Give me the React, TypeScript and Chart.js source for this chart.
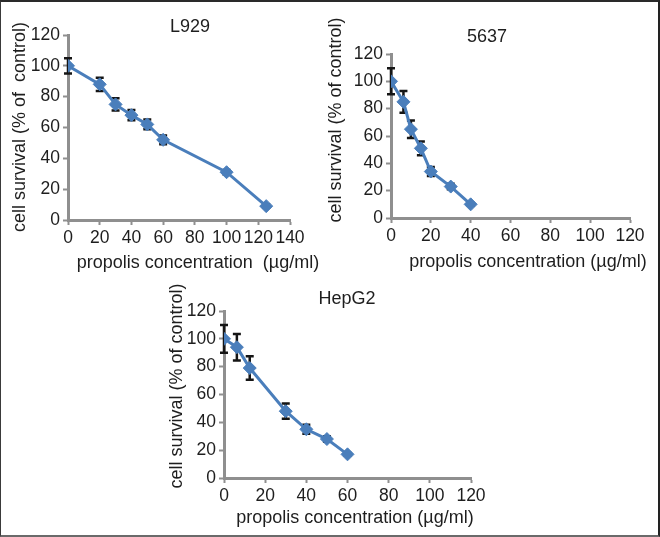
import React, { useEffect, useRef } from "react";
import { Chart, registerables } from "chart.js";

Chart.register(...registerables);

const FONT = "'Liberation Sans', Arial, sans-serif";
const TEXT_COLOR = "#1e1e1e";
const AXIS_COLOR = "#8f8f8f";
const LINE_COLOR = "#4a7ebb";
const ERR_COLOR = "#151515";

// ---- L929 ----
const l929Conc = [0, 20, 30, 40, 50, 60, 100, 125];
const l929Survival = [100, 88, 75, 68, 62, 52, 31, 9];
const l929Err = [5, 4.3, 4, 3.3, 3.2, 2.8, 1.5, 1];

// ---- 5637 ----
const c5637Conc = [0, 6.25, 10, 15, 20, 30, 40];
const c5637Survival = [100, 85, 65, 51, 34, 23, 10];
const c5637Err = [9.5, 8, 6.4, 5, 3.3, 2, 1];

// ---- HepG2 ----
const hepConc = [0, 6.25, 12.5, 30, 40, 50, 60];
const hepSurvival = [100, 94, 79, 48, 35, 28, 17];
const hepErr = [10, 9.5, 8.4, 5.5, 3.2, 2, 1];

const yTicks = [0, 20, 40, 60, 80, 100, 120];

type TextItem = { text: string; x: number; y: number; rot?: boolean };
type Panel = {
  key: string;
  left: number;
  top: number;
  width: number;
  height: number;
  area: { left: number; top: number; right: number; bottom: number };
  xMax: number;
  conc: number[];
  surv: number[];
  err: number[];
  texts: TextItem[];
};

const panels: Panel[] = [
  {
    key: "L929",
    left: 0,
    top: 0,
    width: 330,
    height: 285,
    area: { left: 68, top: 35, right: 290, bottom: 220 },
    xMax: 140,
    conc: l929Conc,
    surv: l929Survival,
    err: l929Err,
    texts: [
      { text: "L929", x: 190, y: 27 },
      { text: "cell survival (% of  control)", x: 20, y: 127, rot: true },
      { text: "propolis concentration  (µg/ml)", x: 198, y: 263 },
    ],
  },
  {
    key: "5637",
    left: 315,
    top: 0,
    width: 345,
    height: 285,
    area: { left: 76, top: 54, right: 315, bottom: 218 },
    xMax: 120,
    conc: c5637Conc,
    surv: c5637Survival,
    err: c5637Err,
    texts: [
      { text: "5637", x: 172, y: 37 },
      { text: "cell survival (% of control)", x: 21, y: 120, rot: true },
      { text: "propolis concentration (µg/ml)", x: 213, y: 262 },
    ],
  },
  {
    key: "HepG2",
    left: 150,
    top: 275,
    width: 340,
    height: 262,
    area: { left: 74, top: 36, right: 321, bottom: 203 },
    xMax: 120,
    conc: hepConc,
    surv: hepSurvival,
    err: hepErr,
    texts: [
      { text: "HepG2", x: 197, y: 24 },
      { text: "cell survival (% of control)", x: 27, y: 111, rot: true },
      { text: "propolis concentration (µg/ml)", x: 205, y: 243 },
    ],
  },
];

const textPlugin = {
  id: "panelTexts",
  afterDraw(chart: any, _args: any, opts: any) {
    const ctx = chart.ctx;
    for (const t of opts.items as TextItem[]) {
      ctx.save();
      ctx.font = `18px ${FONT}`;
      ctx.fillStyle = TEXT_COLOR;
      ctx.textAlign = "center";
      ctx.textBaseline = "middle";
      ctx.translate(t.x, t.y);
      if (t.rot) ctx.rotate(-Math.PI / 2);
      ctx.fillText(t.text, 0, 0);
      ctx.restore();
    }
  },
};

const errorBarPlugin = {
  id: "errorBars",
  beforeDatasetsDraw(chart: any, _args: any, opts: any) {
    const ctx = chart.ctx;
    const xs = chart.scales.x;
    const ys = chart.scales.y;
    const conc: number[] = opts.conc;
    const surv: number[] = opts.surv;
    const err: number[] = opts.err;
    ctx.save();
    ctx.strokeStyle = ERR_COLOR;
    ctx.lineWidth = 2.5;
    for (let i = 0; i < conc.length; i++) {
      const x = xs.getPixelForValue(conc[i]);
      const yT = ys.getPixelForValue(surv[i] + err[i]);
      const yB = ys.getPixelForValue(surv[i] - err[i]);
      ctx.beginPath();
      ctx.moveTo(x, yT);
      ctx.lineTo(x, yB);
      ctx.moveTo(x - 4, yT);
      ctx.lineTo(x + 4, yT);
      ctx.moveTo(x - 4, yB);
      ctx.lineTo(x + 4, yB);
      ctx.stroke();
    }
    ctx.restore();
  },
};

function PanelChart({ p }: { p: Panel }) {
  const ref = useRef<HTMLCanvasElement | null>(null);
  useEffect(() => {
    if (!ref.current) return;
    const tickFont = { family: FONT, size: 17.5 };
    const chart = new Chart(ref.current, {
      type: "line",
      data: {
        datasets: [
          {
            data: p.conc.map((c, i) => ({ x: c, y: p.surv[i] })),
            borderColor: LINE_COLOR,
            backgroundColor: LINE_COLOR,
            borderWidth: 3,
            pointStyle: "rectRot",
            pointRadius: 6.5,
            pointBorderWidth: 1,
            pointBackgroundColor: LINE_COLOR,
            pointBorderColor: LINE_COLOR,
            tension: 0,
            fill: false,
          },
        ],
      },
      options: {
        responsive: false,
        animation: false,
        devicePixelRatio: 1,
        events: [],
        layout: {
          padding: {
            left: 0,
            top: p.area.top,
            right: p.width - p.area.right,
            bottom: 0,
          },
        },
        plugins: {
          legend: { display: false },
          tooltip: { enabled: false },
          title: { display: false },
          panelTexts: { items: p.texts },
          errorBars: { conc: p.conc, surv: p.surv, err: p.err },
        } as any,
        scales: {
          x: {
            type: "linear",
            min: 0,
            max: p.xMax,
            ticks: {
              stepSize: 20,
              autoSkip: false,
              maxRotation: 0,
              font: tickFont,
              color: TEXT_COLOR,
              padding: 3,
            },
            grid: {
              display: true,
              drawOnChartArea: false,
              drawTicks: true,
              tickLength: 5,
              tickColor: AXIS_COLOR,
              tickWidth: 2,
              color: AXIS_COLOR,
            },
            border: { display: true, color: AXIS_COLOR, width: 3 },
            afterFit: (s: any) => {
              s.height = p.height - p.area.bottom;
            },
          },
          y: {
            type: "linear",
            min: yTicks[0],
            max: yTicks[yTicks.length - 1],
            ticks: {
              stepSize: 20,
              font: tickFont,
              color: TEXT_COLOR,
              padding: 3,
            },
            grid: {
              display: true,
              drawOnChartArea: false,
              drawTicks: true,
              tickLength: 5,
              tickColor: AXIS_COLOR,
              tickWidth: 2,
              color: AXIS_COLOR,
            },
            border: { display: true, color: AXIS_COLOR, width: 3 },
            afterFit: (s: any) => {
              s.width = p.area.left;
            },
          },
        },
      } as any,
      plugins: [errorBarPlugin, textPlugin],
    });
    return () => chart.destroy();
  }, [p]);
  return (
    <canvas
      ref={ref}
      width={p.width}
      height={p.height}
      style={{ position: "absolute", left: p.left, top: p.top, width: p.width, height: p.height }}
    />
  );
}

export default function App() {
  return (
    <div
      style={{
        position: "absolute",
        left: 0,
        top: 0,
        width: 660,
        height: 537,
        background: "#ffffff",
        overflow: "hidden",
      }}
    >
      {panels.map((p) => (
        <PanelChart key={p.key} p={p} />
      ))}
      <div
        style={{
          position: "absolute",
          left: 0,
          top: 0,
          width: 660,
          height: 537,
          boxSizing: "border-box",
          borderLeft: "1px solid #3a3a3a",
          borderTop: "2px solid #2a2a2a",
          borderRight: "2px solid #222222",
          borderBottom: "2px solid #6a6a6a",
          pointerEvents: "none",
        }}
      />
    </div>
  );
}
